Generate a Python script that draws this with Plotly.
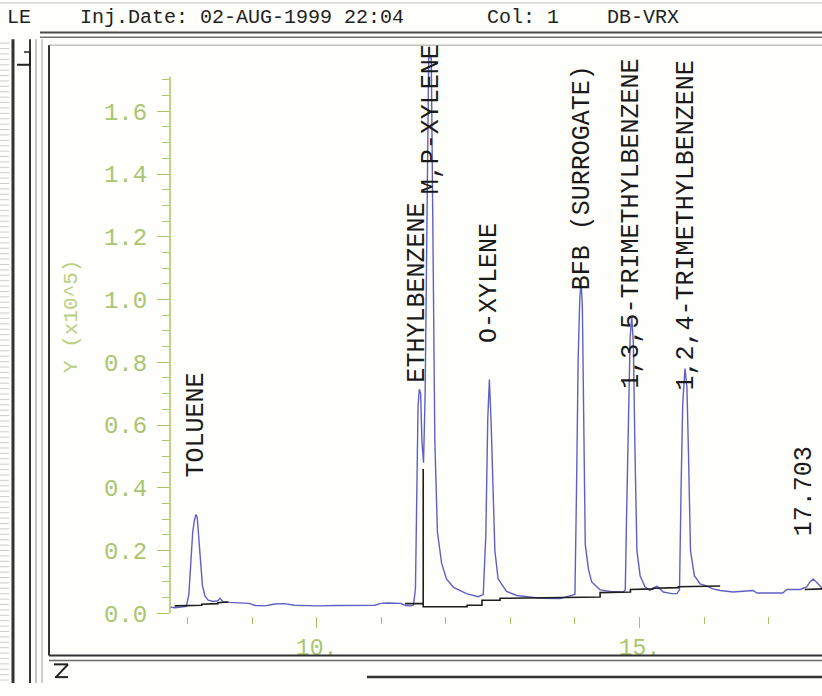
import plotly.graph_objects as go

# ---------------- data ----------------
trace_t = [7.73, 7.80, 7.90, 7.98, 8.02, 8.05, 8.08, 8.11, 8.13, 8.15, 8.17, 8.20, 8.23, 8.27,
           8.32, 8.40, 8.47, 8.50, 8.55, 8.65, 8.80, 8.95, 9.05, 9.20, 9.35, 9.50, 9.65, 9.80,
           10.00, 10.30, 10.60, 10.90, 11.00, 11.10, 11.30, 11.38, 11.45, 11.50, 11.53, 11.55,
           11.57, 11.59, 11.61, 11.63, 11.655, 11.68, 11.71, 11.735, 11.775, 11.80, 11.83, 11.87,
           11.935, 12.01, 12.12, 12.32, 12.50, 12.58, 12.62, 12.65, 12.675, 12.70, 12.73, 12.76,
           12.81, 12.94, 13.10, 13.30, 13.46, 13.77, 13.95, 14.00, 14.025, 14.05, 14.075, 14.095,
           14.115, 14.135, 14.16, 14.21, 14.26, 14.39, 14.55, 14.75, 14.78, 14.80, 14.83, 14.855,
           14.88, 14.905, 14.93, 14.96, 15.01, 15.085, 15.16, 15.27, 15.37, 15.50, 15.58, 15.62,
           15.645, 15.67, 15.705, 15.735, 15.76, 15.79, 15.85, 15.94, 16.015, 16.14, 16.25, 16.45,
           16.76, 16.82, 17.22, 17.28, 17.49, 17.59, 17.64, 17.69, 17.74, 17.80, 17.83]
trace_y = [0.020, 0.018, 0.020, 0.022, 0.060, 0.170, 0.260, 0.300, 0.315, 0.305, 0.250, 0.160, 0.090, 0.055,
           0.042, 0.038, 0.040, 0.048, 0.037, 0.035, 0.034, 0.032, 0.025, 0.024, 0.030, 0.031, 0.026, 0.025,
           0.024, 0.025, 0.025, 0.026, 0.032, 0.033, 0.032, 0.025, 0.024, 0.026, 0.080, 0.350,
           0.660, 0.714, 0.700, 0.550, 0.480, 0.700, 1.200, 1.770, 1.770, 1.100, 0.550, 0.260,
           0.160, 0.110, 0.083, 0.063, 0.053, 0.060, 0.250, 0.620, 0.745, 0.620, 0.390, 0.200,
           0.110, 0.070, 0.057, 0.053, 0.048, 0.047, 0.057, 0.060, 0.400, 0.810, 1.000, 1.060,
           0.980, 0.550, 0.220, 0.140, 0.100, 0.075, 0.070, 0.068, 0.075, 0.310, 0.650, 0.880,
           0.945, 0.860, 0.520, 0.200, 0.120, 0.085, 0.073, 0.087, 0.068, 0.063, 0.063, 0.075,
           0.410, 0.670, 0.780, 0.720, 0.500, 0.200, 0.120, 0.094, 0.089, 0.078, 0.073, 0.068,
           0.073, 0.065, 0.065, 0.076, 0.076, 0.084, 0.100, 0.109, 0.100, 0.086, 0.080]

baseline_t = [7.80, 8.22, 8.22, 8.47, 8.47, 8.63, None,
              11.37, 11.65, 11.65, 11.65, 12.33, 12.33, 12.56, 12.56, 12.84, 12.84, 14.39,
              14.39, 14.86, 14.86, 15.21, 15.21, 15.60, 15.60, 16.25, None, 17.56, 17.83]
baseline_y = [0.024, 0.026, 0.029, 0.031, 0.034, 0.036, None,
              0.031, 0.031, 0.460, 0.021, 0.021, 0.026, 0.026, 0.042, 0.042, 0.048, 0.052,
              0.066, 0.068, 0.076, 0.078, 0.080, 0.082, 0.085, 0.087, None, 0.076, 0.078]

peak_names = ["TOLUENE", "ETHYLBENZENE", "M,P-XYLENE", "O-XYLENE", "BFB (SURROGATE)",
              "1,3,5-TRIMETHYLBENZENE", "1,2,4-TRIMETHYLBENZENE", "17.703"]
peak_times = [8.146, 11.57, 11.77, 12.68, 14.11, 14.87, 15.72, 17.55]
label_base = [0.428, 0.729, 1.329, 0.854, 1.022, 0.710, 0.704, 0.240]

x_tick_vals = [10, 15]
x_tick_text = ["10.", "15."]
x_minor_vals = [8, 9, 11, 12, 13, 14, 16, 17]
y_tick_vals = [0.0, 0.2, 0.4, 0.6, 0.8, 1.0, 1.2, 1.4, 1.6]
y_tick_text = ["0.0", "0.2", "0.4", "0.6", "0.8", "1.0", "1.2", "1.4", "1.6"]
y_minor_vals = [0.05, 0.10, 0.15, 0.25, 0.30, 0.35, 0.45, 0.50, 0.55, 0.65, 0.70, 0.75,
                0.85, 0.90, 0.95, 1.05, 1.10, 1.15, 1.25, 1.30, 1.35, 1.45, 1.50, 1.55,
                1.65, 1.70]

# ---------------- styling ----------------
W, H = 822, 696
GREEN = "#a6c46a"
GREEN_T = "#a9c571"
BLUE = "#6060c4"
MONO = "Liberation Mono, DejaVu Sans Mono, monospace"


def px(x):
    return x / W


def py(y):
    return 1 - y / H


fig = go.Figure()
fig.add_trace(go.Scatter(x=trace_t, y=trace_y, mode="lines",
                         line=dict(color=BLUE, width=1.4), hoverinfo="skip"))
fig.add_trace(go.Scatter(x=baseline_t, y=baseline_y, mode="lines",
                         line=dict(color="#1e1e1e", width=1.6), hoverinfo="skip",
                         connectgaps=False))

annotations = []
for name, t, b in zip(peak_names, peak_times, label_base):
    annotations.append(dict(x=t, y=b, xref="x", yref="y", text=name, textangle=-90,
                            showarrow=False, xanchor="center", yanchor="bottom",
                            font=dict(family=MONO, size=25, color="#1a1a1a")))

# header texts
for txt, x0 in [("LE", 5), ("Inj.Date: 02-AUG-1999 22:04", 78), ("Col: 1", 485), ("DB-VRX", 605)]:
    annotations.append(dict(x=px(x0), y=py(18), xref="paper", yref="paper", text=txt,
                            showarrow=False, xanchor="left", yanchor="middle",
                            font=dict(family=MONO, size=20, color="#222222")))

# y axis title
annotations.append(dict(x=px(72), y=py(323), xref="paper", yref="paper", text="Y (x10^5)",
                        textangle=-90, showarrow=False, xanchor="center", yanchor="middle",
                        font=dict(family=MONO, size=21, color="#b9d085")))

shapes = []


def hline(y, x0, x1, color, width):
    shapes.append(dict(type="line", xref="paper", yref="paper", x0=px(x0), x1=px(x1),
                       y0=py(y), y1=py(y), line=dict(color=color, width=width)))


def vline(x, y0, y1, color, width):
    shapes.append(dict(type="line", xref="paper", yref="paper", x0=px(x), x1=px(x),
                       y0=py(y0), y1=py(y1), line=dict(color=color, width=width)))


# left scan stripes
y = 44
while y < H:
    hline(y, 0, 9, "#cdcdcd", 1)
    y += 5.5

hline(3, 0, 822, "#c4c4c4", 1)
hline(33, 40, 822, "#4a4a4a", 2)
hline(38, 40, 822, "#707070", 1.5)
hline(46, 49, 822, "#a0a0a0", 1)
vline(13, 40, 696, "#333333", 3)
vline(30, 40, 696, "#333333", 2)
vline(36, 40, 696, "#8a8a8a", 1)
vline(42, 40, 696, "#9a9a9a", 1)
vline(49, 46, 668, "#333333", 2)
hline(668, 49, 822, "#333333", 2)
hline(673, 49, 822, "#6a6a6a", 1.5)
hline(690, 367, 822, "#333333", 2.5)
# small icons
vline(30, 52, 67, "#222222", 2)
hline(66, 17, 30, "#222222", 2)
hline(53, 24, 30, "#222222", 1.5)
hline(677, 54, 68, "#222222", 2)
shapes.append(dict(type="line", xref="paper", yref="paper", x0=px(68), y0=py(677),
                   x1=px(56), y1=py(690), line=dict(color="#222222", width=2)))
hline(690, 55, 68, "#222222", 2)
# y axis line (only up to ~1.71)
shapes.append(dict(type="line", xref="paper", yref="y", x0=px(170), x1=px(170),
                   y0=0.0, y1=1.71, line=dict(color=GREEN, width=1.5)))

fig.update_layout(
    width=W, height=H,
    margin=dict(l=0, r=0, t=0, b=0),
    paper_bgcolor="#fefefb", plot_bgcolor="#fefefb",
    showlegend=False,
    annotations=annotations,
    shapes=shapes,
    xaxis=dict(domain=[px(170), 1.0], range=[7.728, 17.827],
               showgrid=False, zeroline=False, showline=False,
               tickvals=x_tick_vals, ticktext=x_tick_text,
               ticks="outside", ticklen=11, tickwidth=1.2, tickcolor=GREEN,
               tickfont=dict(family=MONO, size=23, color=GREEN_T),
               minor=dict(tickvals=x_minor_vals, ticks="outside", ticklen=7,
                          tickwidth=1.2, tickcolor=GREEN, showgrid=False)),
    yaxis=dict(domain=[py(627.6), py(46.2)], range=[-0.008, 1.81],
               showgrid=False, zeroline=False, showline=False,
               tickvals=y_tick_vals, ticktext=y_tick_text,
               ticks="outside", ticklen=12, tickwidth=1.2, tickcolor=GREEN,
               ticklabelstandoff=5,
               tickfont=dict(family=MONO, size=24, color=GREEN_T),
               minor=dict(tickvals=y_minor_vals, ticks="outside", ticklen=7,
                          tickwidth=1.2, tickcolor=GREEN, showgrid=False)),
)

page_fix = (
    "var d=document.documentElement,b=document.body;"
    "d.style.margin='0';d.style.padding='0';d.style.overflow='hidden';d.style.height='696px';"
    "b.style.margin='0';b.style.padding='0';b.style.overflow='hidden';b.style.height='696px';"
    "var g=document.getElementById('{plot_id}');"
    "if(g&&g.parentNode){g.parentNode.style.lineHeight='0';g.parentNode.style.fontSize='0';"
    "g.parentNode.style.height='696px';g.parentNode.style.overflow='hidden';}"
)

fig.write_html("out.html", config={"displayModeBar": False}, post_script=page_fix)
